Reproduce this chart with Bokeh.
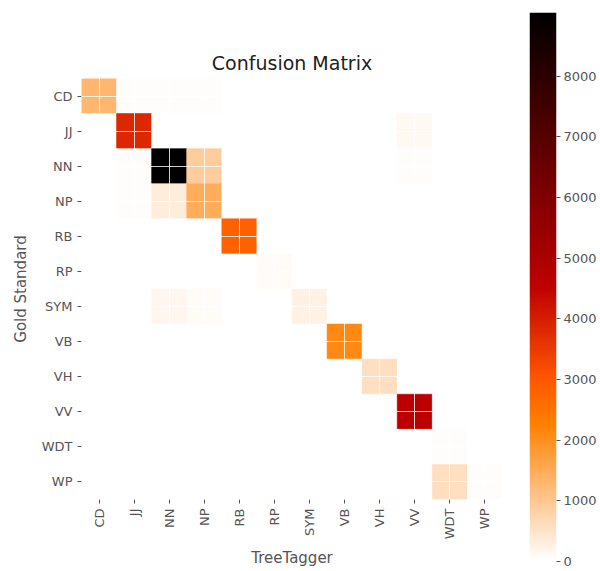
import math
import numpy as np
from bokeh.plotting import figure
from bokeh.models import (ColumnDataSource, LinearColorMapper, FactorRange, Range1d,
                          LinearAxis, FixedTicker)
from bokeh.transform import transform
from bokeh.layouts import row
from bokeh.embed import file_html
from bokeh.resources import INLINE

labels = ["CD", "JJ", "NN", "NP", "RB", "RP", "SYM", "VB", "VH", "VV", "WDT", "WP"]

# rows = gold standard, columns = TreeTagger
row_CD  = [1300,   45,   45,   60,    0,  0,   0,    0,   0,    0,   0,  0]
row_JJ  = [   0, 3850,   25,   25,    0,  0,   0,    0,   0,  120,   0,  0]
row_NN  = [   0,   40, 9050,  900,    0,  0,   0,    0,   0,   50,   0,  0]
row_NP  = [   0,   40,  350, 1450,    0,  0,   0,    0,   0,    0,   0,  0]
row_RB  = [   0,    0,    0,    0, 2800,  0,   0,    0,   0,    0,   0,  0]
row_RP  = [   0,    0,    0,    0,    0, 80,   0,    0,   0,    0,   0,  0]
row_SYM = [   0,    0,  150,   90,    0,  0, 250,    0,   0,    0,   0,  0]
row_VB  = [   0,    0,    0,    0,    0,  0,   0, 2100,   0,    0,   0,  0]
row_VH  = [   0,    0,    0,    0,    0,  0,   0,    0, 580,    0,   0,  0]
row_VV  = [   0,    0,    0,    0,    0,  0,   0,    0,   0, 4600,   0,  0]
row_WDT = [   0,    0,    0,    0,    0,  0,   0,    0,   0,    0,  70,  0]
row_WP  = [   0,    0,    0,    0,    0,  0,   0,    0,   0,    0, 580, 60]

cbar_ticks = [0, 1000, 2000, 3000, 4000, 5000, 6000, 7000, 8000]

rows = [row_CD, row_JJ, row_NN, row_NP, row_RB, row_RP, row_SYM, row_VB,
        row_VH, row_VV, row_WDT, row_WP]
matrix = np.array(rows, dtype=float)
vmax = matrix.max()

# gist_heat_r colormap
def gist_heat_r(n=256):
    pal = []
    for i in range(n):
        x = 1.0 - i / (n - 1)
        r = min(1.0, 1.5 * x)
        g = min(1.0, max(0.0, 2 * x - 1))
        b = min(1.0, max(0.0, 4 * x - 3))
        pal.append("#%02x%02x%02x" % (int(round(r * 255)), int(round(g * 255)), int(round(b * 255))))
    return pal

palette = gist_heat_r()
mapper = LinearColorMapper(palette=palette, low=0, high=vmax)

gold, tagger, vals = [], [], []
for i, g in enumerate(labels):
    for j, t in enumerate(labels):
        gold.append(g)
        tagger.append(t)
        vals.append(matrix[i, j])
source = ColumnDataSource(dict(gold=gold, tagger=tagger, value=vals))

FONT = "DejaVu Sans"
GRAY = "#555555"

p = figure(width=520, height=571, output_backend="svg", toolbar_location=None,
           x_range=FactorRange(factors=labels),
           y_range=FactorRange(factors=list(reversed(labels))),
           title="Confusion Matrix",
           min_border_left=81, min_border_right=18, min_border_top=78, min_border_bottom=72)
p.frame_align = False
p.rect(x="tagger", y="gold", width=1, height=1, source=source,
       fill_color=transform("value", mapper), line_color=transform("value", mapper),
       line_width=0.6)

p.title.align = "center"
p.title.text_font = FONT
p.title.text_font_size = "19px"
p.title.text_font_style = "normal"
p.title.text_color = "#222222"

p.xaxis.axis_label = "TreeTagger"
p.yaxis.axis_label = "Gold Standard"
p.xaxis.major_label_orientation = math.pi / 2
for ax in (p.xaxis[0], p.yaxis[0]):
    ax.axis_line_color = None
    ax.major_tick_in = 0
    ax.major_tick_out = 4
    ax.major_tick_line_color = GRAY
    ax.minor_tick_line_color = None
    ax.major_label_text_font = FONT
    ax.major_label_text_font_size = "13px"
    ax.major_label_text_color = GRAY
    ax.axis_label_text_font = FONT
    ax.axis_label_text_font_size = "15px"
    ax.axis_label_text_font_style = "normal"
    ax.axis_label_text_color = GRAY
p.yaxis.axis_label_standoff = 9
p.xaxis.axis_label_standoff = 7

p.grid.grid_line_color = "white"
p.grid.grid_line_alpha = 0.8
p.grid.grid_line_width = 1
p.grid.level = "overlay"
p.outline_line_color = None
p.background_fill_color = "white"

# colour bar as its own figure
cb = figure(width=80, height=571, output_backend="svg", toolbar_location=None,
            x_range=Range1d(0, 1), y_range=Range1d(0, vmax),
            x_axis_location=None, y_axis_location=None,
            min_border_left=9, min_border_right=44, min_border_top=12, min_border_bottom=10)
cb.frame_align = False
grad = np.linspace(0, vmax, 256).reshape(256, 1)
cb.image(image=[grad], x=0, y=0, dw=1, dh=vmax, color_mapper=mapper)
ax = LinearAxis(ticker=FixedTicker(ticks=cbar_ticks))
ax.axis_line_color = None
ax.major_tick_in = 0
ax.major_tick_out = 4
ax.major_tick_line_color = GRAY
ax.minor_tick_line_color = None
ax.major_label_text_font = FONT
ax.major_label_text_font_size = "13px"
ax.major_label_text_color = GRAY
ax.major_label_standoff = 3
cb.add_layout(ax, "right")
cb.grid.visible = False
cb.outline_line_color = None

layout = row(p, cb)
open("out.html", "w").write(file_html(layout, INLINE))
